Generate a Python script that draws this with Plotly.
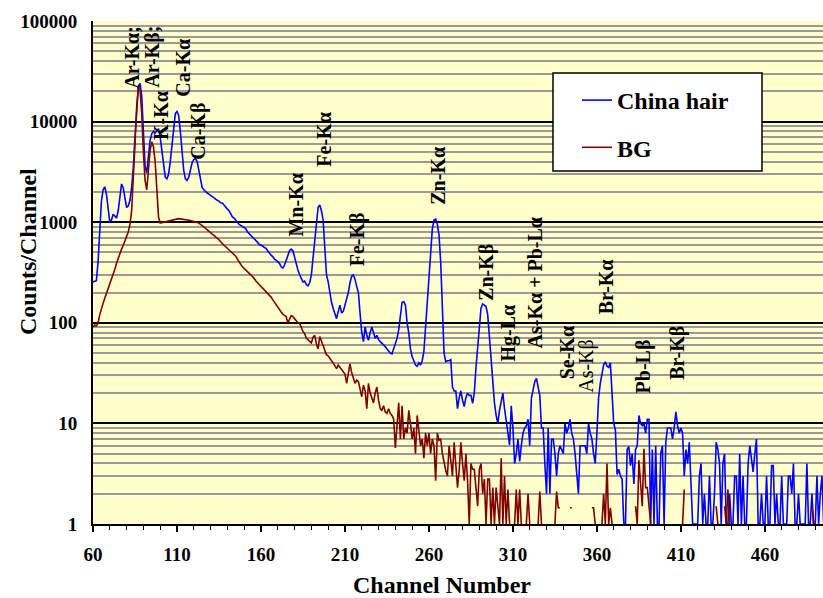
import plotly.graph_objects as go
import math

# ---------------- data ----------------
first_channel = 60
hair_counts = [
    255, 258, 262, 400, 900, 1600, 2100, 2250, 1900, 1300,        # 60-69
    1000, 1050, 1200, 1150, 1100, 1300, 1900, 2400, 2200, 1700,   # 70-79
    1400, 1450, 1650, 2200, 3500, 7000, 14000, 22000, 24000, 18000,  # 80-89
    8000, 3600, 3100, 4200, 6500, 7600, 8000, 7700, 8100, 8500,   # 90-99
    7000, 5000, 3400, 2800, 2700, 3000, 4000, 6000, 9000, 12000,  # 100-109
    12600, 11500, 8000, 5000, 3300, 2700, 2600, 2800, 3300, 3900, # 110-119
    4200, 4300, 4000, 3200, 2500, 2200, 2100, 2000, 1950, 1900,   # 120-129
    1850, 1800, 1780, 1700, 1650, 1620, 1560, 1550, 1480, 1400,   # 130-139
    1350, 1300, 1200, 1130, 1100, 1050, 980, 950, 930, 900,       # 140-149
    880, 860, 800, 770, 740, 720, 690, 670, 630, 600,             # 150-159
    590, 580, 560, 550, 520, 490, 470, 455, 430, 420,             # 160-169
    400, 390, 360, 350, 375, 420, 480, 520, 540, 520,             # 170-179
    450, 380, 335, 300, 270, 255, 260, 240, 233, 250,             # 180-189
    300, 450, 700, 1100, 1400, 1480, 1300, 1050, 600, 300,        # 190-199
    255, 200, 160, 139, 125, 110, 130, 150, 125, 130,             # 200-209
    150, 170, 200, 250, 290, 300, 270, 230, 200, 124,             # 210-219
    80, 65, 91, 75, 67, 80, 91, 80, 70, 75,                       # 220-229
    68, 65, 63, 60, 58, 55, 52, 50, 49, 55,                       # 230-239
    63, 70, 85, 120, 160, 162, 150, 100, 79, 55,                  # 240-249
    46, 42, 38, 37, 40, 38, 42, 52, 90, 180,                      # 250-259
    330, 550, 850, 1050, 1070, 950, 745, 400, 124, 50,            # 260-269
    41, 42, 42, 43, 23, 21, 21, 14, 18, 21,                       # 270-279
    17, 14.7, 18, 20, 19, 19, 15.8, 20, 36, 60,                   # 280-289
    100, 140, 154, 150, 145, 120, 70, 40, 25, 16,                 # 290-299
    12, 10, 13.5, 16, 20, 14, 11, 8, 6.1, 15,                     # 300-309
    9, 4, 5, 7, 4.2, 6, 8, 9, 9.5, 11,                            # 310-319
    6, 17.8, 22, 26, 28, 22, 19, 9, 9, 4,                         # 320-329
    2, 9, 2, 7, 7, 5, 3, 5, 6, 5.5,                               # 330-339
    5, 10, 8, 9, 11, 8, 7, 5, 3, 2,                               # 340-349
    6, 6, 6, 6, 5, 10, 8, 7, 5, 4,                                # 350-359
    8, 18, 25, 30, 38, 41, 37, 36, 40, 20,                        # 360-369
    10, 8.6, 3.1, 3.5, 3, 2.8, 1, 1, 5.5, 5.9,                    # 370-379
    3.8, 5, 2.5, 5.5, 6, 12, 10, 9.5, 10, 8,                      # 380-389
    11, 11, 1, 5.5, 1, 6, 1, 1, 5, 6,                             # 390-399
    1, 6.5, 9, 9, 9, 7, 9, 13, 9.5, 8,                            # 400-409
    9, 8, 3, 5.5, 4, 6.5, 2, 1, 1, 1,                             # 410-419
    1, 3, 4, 1, 2, 1, 1, 3, 1, 1,                                 # 420-429
    2, 6.5, 5.5, 4, 1, 4, 5, 1, 1, 2,                             # 430-439
    1, 1, 3, 3, 1, 5, 1, 3, 1, 1,                                 # 440-449
    4, 6, 4.5, 3.3, 5, 7, 1, 1, 2, 1,                             # 450-459
    1, 3, 1, 1, 3.8, 3.8, 1, 2, 1, 1,                             # 460-469
    3, 1, 1, 1, 3, 3, 2, 4, 1, 1,                                 # 470-479
    2, 1, 1, 1, 1, 4, 1, 1, 2, 1,                                 # 480-489
    1, 3, 1, 2, 3, 1,                                             # 490-495
]

N = None
bg_counts = [
    91, 95, 93, 100, 120, 140, 156, 175, 195, 211,                # 60-69
    240, 270, 300, 340, 390, 440, 490, 540, 590, 640,             # 70-79
    720, 800, 950, 1300, 2500, 6000, 14000, 22000, 21000, 12000,  # 80-89
    5000, 2600, 2100, 3200, 5200, 6300, 5600, 4000, 1800, 1130,   # 90-99
    980, 990, 1000, 1010, 1010, 1030, 1040, 1050, 1070, 1080,     # 100-109
    1090, 1085, 1080, 1075, 1070, 1070, 1065, 1060, 1040, 1030,   # 110-119
    1020, 1010, 990, 980, 950, 930, 900, 870, 840, 800,           # 120-129
    790, 760, 740, 720, 690, 670, 640, 610, 590, 570,             # 130-139
    550, 530, 510, 490, 470, 460, 430, 400, 380, 360,             # 140-149
    345, 330, 320, 310, 300, 290, 275, 260, 250, 237,             # 150-159
    230, 220, 210, 205, 198, 190, 180, 170, 160, 150,             # 160-169
    140, 135, 128, 122, 118, 115, 100, 110, 118, 115,             # 170-179
    110, 105, 100, 99, 90, 82, 78, 70, 68, 65,                    # 180-189
    63, 72, 75, 62, 55, 73, 66, 60, 52, 48,                       # 190-199
    47, 44, 42, 40, 37, 35, 38, 36, 34, 33,                       # 200-209
    31, 25, 30, 39, 32, 28, 25, 27, 26, 22,                       # 210-219
    18.4, 24, 21, 14, 25, 20, 18, 16, 20, 23,                     # 220-229
    17, 14, 13.5, 15, 13, 12.6, 14, 12.5, 12, 11,                 # 230-239
    5.7, 9, 16, 7, 15, 7, 9, 8, 13.5, 10,                         # 240-249
    7, 9, 5, 12, 8, 6, 7, 4.5, 8, 6,                              # 250-259
    8, 5, 7, 6, 2.7, 8, 6.8, 7, 5, 4,                             # 260-269
    3.4, 3, 6, 4.3, 3, 6.5, 4, 2.3, 3.4, 6.5,                     # 270-279
    4, 2.7, 5, 2.7, 1, 4, 3.5, 3.5, 2.3, 1.5,                     # 280-289
    3.5, 4, 2, 2.8, 1, 2.8, 2.8, 1, 2.3, 1,                       # 290-299
    2.3, 1.5, 1, 4.5, 1, 3, 1, 2.2, 1, N,                         # 300-309
    N, 1, 2.2, 1, 2.2, 1, N, N, 1, 2,                             # 310-319
    1, N, N, N, N, 1, 2.1, 1, N, N,                               # 320-329
    N, N, N, N, N, 1, 2.1, 1.45, 1.45, N,                         # 330-339
    N, 1.45, N, N, 1.45, 1.45, N, N, N, N,                        # 340-349
    N, N, N, N, N, N, N, 1.45, 1.45, 1,                           # 350-359
    N, N, N, 1, 2, 1, 4, 1, 1.45, 1,                              # 360-369
    N, N, N, N, N, N, N, N, N, N,                                 # 370-379
    N, N, N, 1.5, 1, 4.3, 2.5, 1.5, 5.6, 2.3,                     # 380-389
    2.3, 1.5, 1, N, N, N, N, N, N, N,                             # 390-399
    N, N, N, N, N, N, N, N, N, N,                                 # 400-409
    N, 1, 2.2, N, N, N, N, N, N, N,                               # 410-419
    N, N, N, N, N, N, N, N, N, N,                                 # 420-429
    N, 1.5, 1, N, N, N, 1.5, 1, 2.2, 1,                           # 430-439
    N, N, N, N, N, N, N, N, N, N,                                 # 440-449
    N, N, N, N, N, N, N, N, N, N,                                 # 450-459
    N, N, N, N, N, N, N, N, N, N,                                 # 460-469
    N, N, N, N, N, N, N, N, N, N,                                 # 470-479
    N, N, N, N, N, N, N, N, 1.5, 1,                               # 480-489
    N, N, N, N, N, N,                                             # 490-495
]

hair_channels = list(range(first_channel, first_channel + len(hair_counts)))
bg_channels = list(range(first_channel, first_channel + len(bg_counts)))

series_names = ["China hair", "BG"]
x_ticks = [60, 110, 160, 210, 260, 310, 360, 410, 460]

# peak labels: (text, channel, counts at label foot, bold)
peak_labels = [
    ("Ar-Kα;", 83.6, 20300, True),
    ("Ar-Kβ;", 94.9, 20600, True),
    ("K-Kα", 100.9, 6300, True),
    ("Ca-Kα", 113.75, 17000, True),
    ("Ca-Kβ", 122.3, 4000, True),
    ("Mn-Kα", 180.65, 690, True),
    ("Fe-Kα", 197.7, 3430, True),
    ("Fe-Kβ", 217.3, 350, True),
    ("Zn-Kα", 264.9, 1430, True),
    ("Zn-Kβ", 294.3, 158, True),
    ("Hg-Lα", 307.4, 39.5, True),
    ("As-Kα + Pb-Lα", 323.1, 53, True),
    ("Se-Kα", 342.3, 26, True),
    ("As-Kβ", 353.3, 19.1, False),
    ("Br-Kα", 365.5, 115, True),
    ("Pb-Lβ", 387.6, 19.1, True),
    ("Br-Kβ", 407.8, 26, True),
]

# ---------------- figure ----------------
SERIF = "Liberation Serif"
W, H = 823, 598
L, R, T, B = 93, 0, 21, 74
pw, ph = W - L - R, H - T - B

def px_x(p):
    return (p - L) / pw

def px_y(p):
    return (H - B - p) / ph

fig = go.Figure()
fig.add_trace(go.Scatter(
    x=hair_channels, y=hair_counts, mode="lines", name=series_names[0],
    line=dict(color="#0000FF", width=1.6), legendgroup="a",
))
fig.add_trace(go.Scatter(
    x=bg_channels, y=bg_counts, mode="lines", name=series_names[1],
    line=dict(color="#800000", width=1.6), legendgroup="b",
    connectgaps=False,
))

annotations = []
for text, ch, cnt, bold in peak_labels:
    annotations.append(dict(
        x=ch, y=math.log10(cnt), xref="x", yref="y", text=text,
        textangle=-90, showarrow=False, xanchor="center", yanchor="bottom",
        font=dict(family=SERIF, size=20, color="black",
                  weight="bold" if bold else "normal"),
    ))

annotations.append(dict(
    x=px_x(28), y=px_y(252), xref="paper", yref="paper", text="Counts/Channel",
    textangle=-90, showarrow=False, xanchor="center", yanchor="middle",
    font=dict(family=SERIF, size=24, color="black", weight="bold"),
))
annotations.append(dict(
    x=px_x(442), y=px_y(585), xref="paper", yref="paper", text="Channel Number",
    showarrow=False, xanchor="center", yanchor="middle",
    font=dict(family=SERIF, size=24, color="black", weight="bold"),
))

fig.update_layout(
    width=W, height=H,
    margin=dict(l=L, r=R, t=T, b=B, pad=0),
    paper_bgcolor="white",
    plot_bgcolor="#FFFFCC",
    font=dict(family=SERIF),
    annotations=annotations,
    showlegend=True,
    legend=dict(
        x=px_x(577), y=px_y(78), xanchor="left", yanchor="top",
        bgcolor="rgba(0,0,0,0)", borderwidth=0,
        font=dict(family=SERIF, size=24, color="black", weight="bold"),
        tracegroupgap=13,
    ),
    shapes=[dict(
        type="rect", xref="paper", yref="paper",
        x0=px_x(553), x1=px_x(762), y0=px_y(171), y1=px_y(73),
        fillcolor="white", line=dict(color="black", width=1.5), layer="above",
    )],
)

fig.update_xaxes(
    range=[60, 494.6],
    tickmode="array", tickvals=x_ticks,
    ticks="outside", ticklen=6, tickwidth=1.5, tickcolor="black",
    minor=dict(dtick=10, tick0=60, ticks="outside", ticklen=4, tickwidth=1,
               tickcolor="black", showgrid=False),
    showgrid=False, zeroline=False,
    showline=True, linecolor="black", linewidth=2,
    tickfont=dict(family=SERIF, size=19, color="black", weight="bold"),
    ticklabelstandoff=6,
)
fig.update_yaxes(
    type="log", range=[0, 5], dtick=1, tick0=0,
    tickformat="d",
    showgrid=True, gridcolor="black", gridwidth=1.5,
    minor=dict(dtick="D1", showgrid=True, gridcolor="#9a9a9a", gridwidth=1.5,
               ticks=""),
    ticks="", zeroline=False,
    showline=True, linecolor="black", linewidth=2,
    tickfont=dict(family=SERIF, size=19, color="black", weight="bold"),
    ticklabelstandoff=10,
)

fig.write_html("out.html")
